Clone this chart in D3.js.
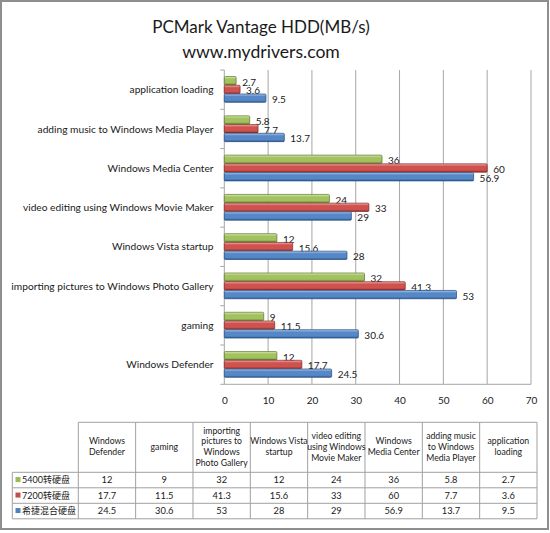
<!DOCTYPE html>
<html><head><meta charset="utf-8">
<script src="https://cdn.jsdelivr.net/npm/d3@7"></script>
<style>
html,body{margin:0;padding:0;background:#fff;}
svg{display:block;}
text{font-family:Lato,"Noto Sans CJK SC",sans-serif;fill:#1a1a1a;}
</style></head>
<body><svg id="c" width="550" height="533"></svg>
<script>
const titleLines = ["PCMark Vantage HDD(MB/s)", "www.mydrivers.com"];
const categories = ["Windows Defender", "gaming", "importing pictures to Windows Photo Gallery", "Windows Vista startup", "video editing using Windows Movie Maker", "Windows Media Center", "adding music to Windows Media Player", "application loading"];
const tableHeaders = ["Windows\nDefender", "gaming", "importing\npictures to\nWindows\nPhoto Gallery", "Windows Vista\nstartup", "video editing\nusing Windows\nMovie Maker", "Windows\nMedia Center", "adding music\nto Windows\nMedia Player", "application\nloading"];
const seriesNames = ["5400转硬盘", "7200转硬盘", "希捷混合硬盘"];
const s5400 = [12, 9, 32, 12, 24, 36, 5.8, 2.7];
const s7200 = [17.7, 11.5, 41.3, 15.6, 33, 60, 7.7, 3.6];
const sHybrid = [24.5, 30.6, 53, 28, 29, 56.9, 13.7, 9.5];
const xTicks = [0, 10, 20, 30, 40, 50, 60, 70];
const colors = [
  {id:"g", top:"#dcecb4", mid:"#a2c25f", bot:"#6e8a36", stroke:"#5c7430", key:"#9bbb59"},
  {id:"r", top:"#f2b3b0", mid:"#d0524e", bot:"#972f2c", stroke:"#7a2522", key:"#c0504d"},
  {id:"b", top:"#b3cbec", mid:"#5688c8", bot:"#2e5d98", stroke:"#23497a", key:"#4f81bd"}
];
const series = [s5400, s7200, sHybrid];

const svg = d3.select("#c");
const defs = svg.append("defs");
colors.forEach(c => {
  const g = defs.append("linearGradient").attr("id","grad"+c.id).attr("x1",0).attr("y1",0).attr("x2",0).attr("y2",1);
  g.append("stop").attr("offset","0%").attr("stop-color",c.top);
  g.append("stop").attr("offset","30%").attr("stop-color",c.mid);
  g.append("stop").attr("offset","75%").attr("stop-color",c.mid);
  g.append("stop").attr("offset","100%").attr("stop-color",c.bot);
});

// outer frame
svg.append("rect").attr("x",1).attr("y",1).attr("width",547).attr("height",528)
  .attr("fill","none").attr("stroke","#8e8e8e").attr("stroke-width",2);

// title
svg.append("text").attr("x",261).attr("y",33).attr("text-anchor","middle").attr("font-size",17).text(titleLines[0]);
svg.append("text").attr("x",261).attr("y",58).attr("text-anchor","middle").attr("font-size",17.6).text(titleLines[1]);

const x = d3.scaleLinear().domain([0,70]).range([224.3,531]);
const y = d3.scaleBand().domain(categories.slice().reverse()).range([70,384.3]);
const bw = y.bandwidth()/4.5;

// gridlines
svg.append("g").selectAll("line").data(xTicks).join("line")
  .attr("x1",d=>x(d)).attr("x2",d=>x(d)).attr("y1",70).attr("y2",384.3)
  .attr("stroke","#a6a6a6").attr("stroke-width",1);
svg.append("line").attr("x1",x(0)).attr("x2",x(70)).attr("y1",384.3).attr("y2",384.3).attr("stroke","#a6a6a6");
// category ticks
svg.append("g").selectAll("line").data(d3.range(categories.length+1)).join("line")
  .attr("x1",x(0)-4).attr("x2",x(0)).attr("y1",i=>70+i*y.step()).attr("y2",i=>70+i*y.step())
  .attr("stroke","#a6a6a6");

// x axis labels
const xa = svg.append("g").attr("transform","translate(0,384.3)")
  .call(d3.axisBottom(x).tickValues(xTicks).tickSize(0).tickPadding(13));
xa.select(".domain").remove();
xa.selectAll("text").attr("font-size",10).attr("font-family","Lato").attr("fill","#1a1a1a");

// category labels
svg.append("g").selectAll("text").data(categories).join("text")
  .attr("x",213.5).attr("y",d=>y(d)+y.bandwidth()/2).attr("dy","0.35em")
  .attr("text-anchor","end").attr("font-size",10.2).text(d=>d);

// bars
series.forEach((vals,si) => {
  const c = colors[si];
  const g = svg.append("g");
  g.selectAll("rect").data(vals).join("rect")
    .attr("x",x(0)).attr("y",(d,i)=>y(categories[i]) + 0.75*bw + si*bw)
    .attr("width",d=>x(d)-x(0)).attr("height",bw-0.4)
    .attr("rx",1).attr("fill","url(#grad"+c.id+")").attr("stroke",c.stroke).attr("stroke-width",0.7);
  g.selectAll("text").data(vals).join("text")
    .attr("x",d=>x(d)+6).attr("y",(d,i)=>y(categories[i]) + 0.75*bw + si*bw + bw/2 + 1.3)
    .attr("dy","0.35em").attr("font-size",10).text(d=>d);
});

// data table
const colW = (537-78.3)/categories.length;
const tx = i => 78.3 + i*colW;
const rowTop = [472.3, 487.8, 503.3, 518.8];
const tbl = svg.append("g").attr("stroke","#a0a0a0").attr("stroke-width",1);
tbl.append("line").attr("x1",tx(0)).attr("x2",tx(8)).attr("y1",422.3).attr("y2",422.3);
tbl.selectAll(".v").data(d3.range(categories.length+1)).join("line")
  .attr("x1",i=>tx(i)).attr("x2",i=>tx(i)).attr("y1",422.3).attr("y2",rowTop[3]);
tbl.selectAll(".h").data(rowTop).join("line")
  .attr("x1",12.3).attr("x2",tx(8)).attr("y1",d=>d).attr("y2",d=>d);
tbl.append("line").attr("x1",12.3).attr("x2",12.3).attr("y1",rowTop[0]).attr("y2",rowTop[3]);

// headers
tableHeaders.forEach((h,i) => {
  const lines = h.split("\n");
  const t = svg.append("text").attr("text-anchor","middle").attr("font-size",8.7);
  lines.forEach((l,li) => {
    t.append("tspan").attr("x",tx(i)+colW/2)
      .attr("y",446.8 + (li-(lines.length-1)/2)*10.8).attr("dy","0.35em").text(l);
  });
});
// rows
series.forEach((vals,si) => {
  const cy = (rowTop[si]+rowTop[si+1])/2;
  svg.append("rect").attr("x",15.5).attr("y",cy-3).attr("width",5).attr("height",5).attr("fill",colors[si].key);
  svg.append("text").attr("x",22).attr("y",cy).attr("dy","0.35em").attr("font-size",9)
    .attr("font-family","'Noto Sans CJK SC'").text(seriesNames[si]);
  svg.append("g").selectAll("text").data(vals).join("text")
    .attr("x",(d,i)=>tx(i)+colW/2).attr("y",cy).attr("dy","0.35em")
    .attr("text-anchor","middle").attr("font-size",9.3).text(d=>d);
});
</script></body></html>
